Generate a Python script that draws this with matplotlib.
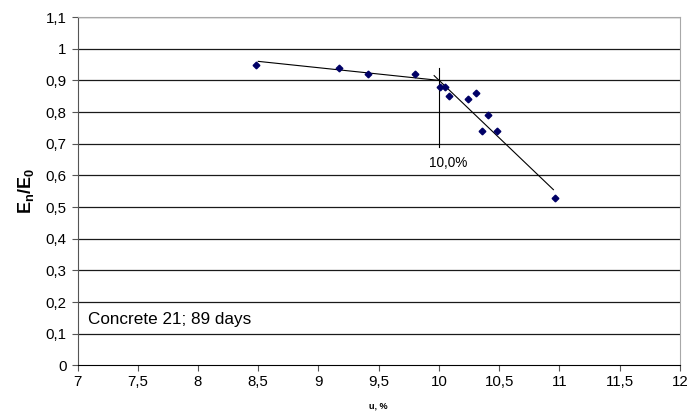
import numpy as np
import matplotlib
matplotlib.use("Agg")
import matplotlib.pyplot as plt

plt.rcParams["font.family"] = ["Liberation Sans", "DejaVu Sans"]
plt.rcParams["mathtext.fontset"] = "custom"
plt.rcParams["mathtext.rm"] = "Liberation Sans"
plt.rcParams["mathtext.bf"] = "Liberation Sans:bold"

# measured points
u = [8.48, 9.17, 9.41, 9.80, 10.01, 10.05, 10.08, 10.24, 10.31, 10.41, 10.36, 10.48, 10.96]
ratio = [0.95, 0.94, 0.92, 0.92, 0.88, 0.88, 0.85, 0.84, 0.86, 0.79, 0.74, 0.74, 0.53]

# two fitted trend segments
trend1_x = [8.5, 10.0]
trend1_y = [0.96, 0.90]
trend2_x = [9.96, 10.95]
trend2_y = [0.915, 0.555]

# breakpoint marker
break_x = [10.0, 10.0]
break_y = [0.69, 0.94]
break_label = "10,0%"

xticks = [7, 7.5, 8, 8.5, 9, 9.5, 10, 10.5, 11, 11.5, 12]
xtick_labels = ["7", "7,5", "8", "8,5", "9", "9,5", "10", "10,5", "11", "11,5", "12"]
yticks = [0, 0.1, 0.2, 0.3, 0.4, 0.5, 0.6, 0.7, 0.8, 0.9, 1.0, 1.1]
ytick_labels = ["0", "0,1", "0,2", "0,3", "0,4", "0,5", "0,6", "0,7", "0,8", "0,9", "1", "1,1"]

fig = plt.figure(figsize=(6.94, 4.18), dpi=100)
ax = fig.add_axes([0.1117, 0.1256, 0.868, 0.8337])

for yv in yticks[1:]:
    ax.axhline(yv, color="#1a1a1a", lw=0.9, zorder=1)

ax.plot(trend1_x, trend1_y, color="black", lw=0.8, zorder=2)
ax.plot(trend2_x, trend2_y, color="black", lw=0.8, zorder=2)
ax.plot(break_x, break_y, color="black", lw=0.8, zorder=2)
ax.plot(u, ratio, linestyle="none", marker="D", markersize=3.4,
        color="#000066", zorder=3)

ax.text(10.08, 0.64, break_label, fontsize=9.8, ha="center", va="center")
ax.text(7.09, 0.144, "Concrete 21; 89 days", fontsize=12.3, ha="left", va="center")

ax.set_xlim(7, 12)
ax.set_ylim(0, 1.1)
ax.set_xticks(xticks)
ax.set_xticklabels(xtick_labels)
ax.set_yticks(yticks)
ax.set_yticklabels(ytick_labels)
ax.tick_params(axis="both", labelsize=10.8, length=4, width=0.8, color="#555555")
ax.tick_params(axis="x", pad=3)
ax.tick_params(axis="y", pad=4)

ax.spines["left"].set_color("#555555")
ax.spines["bottom"].set_color("black")
ax.spines["top"].set_color("#a8a8a8")
ax.spines["right"].set_color("#a8a8a8")

ax.set_ylabel(r"$\mathbf{E_n/E_0}$", fontsize=13, labelpad=7)
ax.set_xlabel("u, %", fontsize=6.5, fontweight="bold", labelpad=9)

fig.savefig("out.png", dpi=100)
